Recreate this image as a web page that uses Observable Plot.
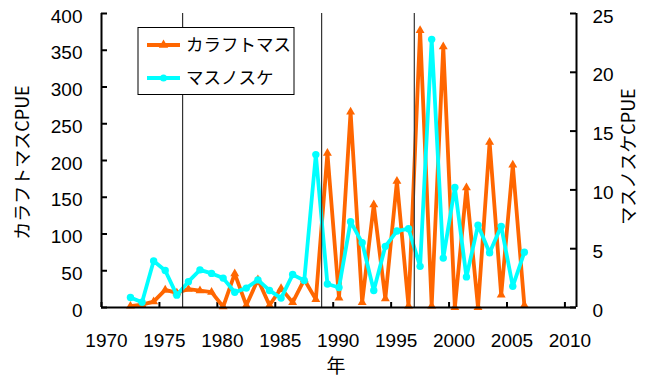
<!DOCTYPE html>
<html><head><meta charset="utf-8">
<script src="https://cdn.jsdelivr.net/npm/d3@7"></script>
<script src="https://cdn.jsdelivr.net/npm/@observablehq/plot@0.6"></script>
<style>
body{margin:0;background:#fff;}
#wrap{position:relative;width:649px;height:385px;overflow:hidden;}
#wrap svg{display:block;}
#legend{position:absolute;left:0;top:0;}
</style></head><body><div id="wrap"></div>
<script>
// ---- data ----
const years = [1972,1973,1974,1975,1976,1977,1978,1979,1980,1981,1982,1983,1984,1985,1986,1987,1988,1989,1990,1991,1992,1993,1994,1995,1996,1997,1998,1999,2000,2001,2002,2003,2004,2005,2006];
const karafutomasu = [2,4,8,24,20,25,23,21,1,46,3,38,3,26,7,38,11,210,13,266,7,140,12,172,2,377,2,355,0,163,0,225,17,194,3];
const masunosuke = [0.85,0.45,3.95,3.15,1.05,2.2,3.2,2.9,2.5,1.3,1.65,2.35,1.45,0.8,2.8,2.3,13.0,2.0,1.7,7.3,5.5,1.45,5.2,6.5,6.7,3.5,22.8,4.2,10.2,2.6,7.0,4.65,6.9,1.8,4.7];
const seriesNames = ["カラフトマス", "マスノスケ"];
const xTicks = [1970,1975,1980,1985,1990,1995,2000,2005,2010];
const xDomain = [1970, 2011];
const yLeftTicks = [0,50,100,150,200,250,300,350,400];
const yLeftDomain = [0, 400];
const yRightTicks = [0,5,10,15,20,25];
const yRightMax = 25;
const regimeYears = [1977, 1989, 1997];
const labels = {x: "年", yLeft: "カラフトマスCPUE", yRight: "マスノスケCPUE"};

// ---- styles ----
const ORANGE = "#FF6600", CYAN = "#00FFFF";
const midYear = 0.5;
const k = yLeftDomain[1] / yRightMax;
const W = 649, H = 385, mL = 101, mR = 73, mT = 13, mB = 78;
const fw = W - mL - mR, fh = H - mT - mB;
const jp = "'Noto Sans CJK JP', 'Noto Sans', sans-serif";

const rows = years.map((y, i) => ({year: y, a: karafutomasu[i], b: masunosuke[i]}));

const chart = Plot.plot({
  width: W, height: H,
  marginLeft: mL, marginRight: mR, marginTop: mT, marginBottom: mB,
  style: {fontFamily: "'Liberation Sans', Arial, sans-serif", fontSize: "19px", color: "#000", background: "#fff"},
  x: {domain: xDomain},
  y: {domain: yLeftDomain},
  marks: [
    Plot.axisX({ticks: xTicks, tickFormat: d => String(d), tickSize: 0, tickPadding: 26, dx: 5, label: null, fontSize: 19}),
    Plot.axisY({ticks: yLeftTicks, tickSize: 0, tickPadding: 19, dy: 3, label: null, fontSize: 19}),
    Plot.axisY({anchor: "right", ticks: yRightTicks.map(v => v * k), tickFormat: d => String(d / k), tickSize: 0, tickPadding: 16, dy: 3, label: null, fontSize: 19}),
    // inward tick marks
    Plot.tickX(xTicks, {x: d => d, insetTop: fh - 5, stroke: "#000", strokeWidth: 2}),
    Plot.tickY(yLeftTicks, {y: d => d, insetRight: fw - 6, stroke: "#000", strokeWidth: 2}),
    Plot.tickY(yRightTicks, {y: d => d * k, insetLeft: fw - 6, stroke: "#000", strokeWidth: 2}),
    // series
    Plot.line(rows, {x: d => d.year + midYear, y: "a", stroke: ORANGE, strokeWidth: 3.8}),
    Plot.dot(rows, {x: d => d.year + midYear, y: "a", symbol: "triangle", r: 3.3, fill: ORANGE, stroke: "none"}),
    Plot.line(rows, {x: d => d.year + midYear, y: d => d.b * k, stroke: CYAN, strokeWidth: 3.8}),
    Plot.dot(rows, {x: d => d.year + midYear, y: d => d.b * k, r: 3.7, fill: CYAN, stroke: "none"}),
    // regime lines
    Plot.ruleX(regimeYears, {stroke: "#333", strokeWidth: 1.2}),
    // axis lines
    Plot.ruleX([xDomain[0]], {stroke: "#000", strokeWidth: 2}),
    Plot.ruleX([xDomain[1]], {stroke: "#000", strokeWidth: 2}),
    Plot.ruleY([yLeftDomain[0]], {stroke: "#000", strokeWidth: 2}),
    // axis titles
    Plot.text([labels.yLeft], {frameAnchor: "left", textAnchor: "middle", lineAnchor: "middle", text: d => d, rotate: -90, dx: -78, dy: 2, fontSize: 18, fontFamily: jp, fill: "#000"}),
    Plot.text([labels.yRight], {frameAnchor: "right", textAnchor: "middle", lineAnchor: "middle", text: d => d, rotate: -90, dx: 53, dy: -4, fontSize: 18, fontFamily: jp, fill: "#000"}),
    Plot.text([labels.x], {frameAnchor: "bottom", text: d => d, dx: -3, dy: 65, fontSize: 19, fontFamily: jp, fill: "#000"})
  ]
});
document.getElementById("wrap").appendChild(chart);

// ---- legend (inside the plot area) ----
const lg = d3.select("#wrap").append("svg").attr("id", "legend").attr("width", W).attr("height", H);
const box = {x: 138, y: 27.5, w: 156, h: 67};
lg.append("rect").attr("x", box.x).attr("y", box.y).attr("width", box.w).attr("height", box.h)
  .attr("fill", "#fff").attr("stroke", "#000").attr("stroke-width", 1);
const entries = [
  {name: seriesNames[0], color: ORANGE, sym: d3.symbolTriangle, cy: 45},
  {name: seriesNames[1], color: CYAN, sym: d3.symbolCircle, cy: 78}
];
entries.forEach(e => {
  lg.append("line").attr("x1", 147).attr("x2", 180).attr("y1", e.cy).attr("y2", e.cy)
    .attr("stroke", e.color).attr("stroke-width", 3.8);
  lg.append("path").attr("d", d3.symbol(e.sym, Math.PI * 3.5 * 3.5)())
    .attr("transform", `translate(163.5,${e.cy})`).attr("fill", e.color);
  lg.append("text").attr("x", 186).attr("y", e.cy).attr("dy", "0.36em")
    .attr("font-family", jp).attr("font-size", 17.5).attr("fill", "#000").text(e.name);
});
</script>
</body></html>
